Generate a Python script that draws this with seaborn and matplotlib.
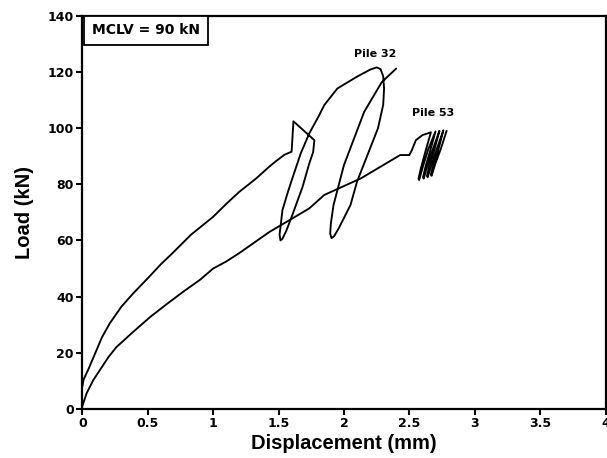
import pandas as pd
import matplotlib
matplotlib.use("Agg")
import matplotlib.pyplot as plt
import seaborn as sns

# Pile 32: loading, sudden load step, small unload/reload loop, larger loop
pile32_disp = [0.0, 0.01, 0.05, 0.10, 0.15, 0.21, 0.30, 0.39, 0.52, 0.60,
               0.69, 0.83, 1.00, 1.10, 1.20, 1.33, 1.43, 1.48, 1.545, 1.60,
               1.614, 1.774,
               1.765, 1.735, 1.684, 1.61, 1.56, 1.53, 1.515, 1.508,
               1.53, 1.57, 1.61, 1.67, 1.735, 1.81, 1.85, 1.95, 2.10, 2.20,
               2.25, 2.28, 2.30, 2.307, 2.30, 2.26, 2.18, 2.10, 2.05, 1.96,
               1.925, 1.905, 1.895, 1.90, 1.92, 2.00, 2.155, 2.29, 2.40]
pile32_load = [8.0, 10.5, 14.5, 20.0, 25.5, 30.5, 36.5, 41.2, 47.5, 51.5,
               55.5, 62.0, 68.4, 73.0, 77.3, 82.1, 86.3, 88.2, 90.5, 91.6,
               102.4, 95.7,
               91.5, 87.4, 79.1, 69.6, 63.5, 60.6, 60.0, 62.0,
               70.8, 77.0, 82.7, 91.0, 98.1, 104.5, 108.2, 114.1, 118.3, 120.8,
               121.6, 121.0, 118.5, 114.1, 108.2, 99.9, 90.4, 80.9, 72.6, 64.3,
               61.5, 60.8, 62.5, 66.0, 72.5, 86.8, 105.8, 116.4, 121.2]

# Pile 53: loading, then repeated load cycles near the maximum
pile53_disp = [0.0, 0.033, 0.084, 0.135, 0.20, 0.26, 0.39, 0.52, 0.65, 0.77,
               0.90, 1.00, 1.10, 1.20, 1.43, 1.735, 1.85, 2.13, 2.43, 2.50,
               2.52, 2.55, 2.60, 2.64, 2.665,
               2.625, 2.59, 2.57, 2.575, 2.605, 2.645, 2.70,
               2.66, 2.625, 2.605, 2.61, 2.64, 2.68, 2.73,
               2.69, 2.655, 2.635, 2.64, 2.67, 2.71, 2.76,
               2.72, 2.685, 2.665, 2.67, 2.70, 2.74, 2.785]
pile53_load = [1.0, 5.6, 10.3, 13.9, 18.5, 22.0, 27.5, 32.8, 37.5, 41.7,
               46.0, 50.0, 52.5, 55.5, 63.0, 71.4, 76.2, 82.1, 90.4, 90.4,
               92.2, 95.7, 97.5, 98.1, 98.5,
               92.0, 86.0, 82.0, 81.5, 86.5, 92.5, 98.8,
               92.0, 86.5, 82.5, 82.0, 87.0, 92.5, 99.0,
               92.0, 87.0, 83.0, 82.5, 87.0, 92.5, 99.2,
               92.0, 87.0, 83.5, 83.0, 87.5, 92.5, 99.0]

x_ticks = [0, 0.5, 1, 1.5, 2, 2.5, 3, 3.5, 4]
x_tick_labels = ["0", "0.5", "1", "1.5", "2", "2.5", "3", "3.5", "4"]
y_ticks = [0, 20, 40, 60, 80, 100, 120, 140]

df = pd.concat([
    pd.DataFrame({"disp": pile32_disp, "load": pile32_load, "pile": "Pile 32"}),
    pd.DataFrame({"disp": pile53_disp, "load": pile53_load, "pile": "Pile 53"}),
], ignore_index=True)

sns.set_theme(style="ticks")
plt.rcParams["font.family"] = ["Liberation Sans", "DejaVu Sans"]
plt.rcParams["text.color"] = "black"
plt.rcParams["axes.labelcolor"] = "black"

fig = plt.figure(figsize=(6.07, 4.58), dpi=100)
ax = fig.add_axes([0.1356, 0.107, 0.862, 0.8587])

sns.lineplot(data=df, x="disp", y="load", units="pile", estimator=None,
             sort=False, color="black", linewidth=1.35, ax=ax, legend=False)

ax.set_xlim(0, 4)
ax.set_ylim(0, 140)
ax.set_xticks(x_ticks)
ax.set_xticklabels(x_tick_labels)
ax.set_yticks(y_ticks)
ax.tick_params(axis="both", direction="out", length=4, width=1.5,
               pad=2, color="black", labelcolor="black")
for lbl in ax.get_xticklabels() + ax.get_yticklabels():
    lbl.set_fontfamily("DejaVu Sans")
    lbl.set_fontweight("bold")
    lbl.set_fontsize(9)
for side in ["left", "bottom", "top", "right"]:
    ax.spines[side].set_visible(True)
    ax.spines[side].set_linewidth(1.6)
    ax.spines[side].set_color("black")

ax.set_xlabel("Displacement (mm)", fontsize=14.5, fontweight="bold",
              labelpad=3, color="black")
ax.set_ylabel("Load (kN)", fontsize=14.5, fontweight="bold",
              labelpad=10, color="black")

ax.text(0.0185, 0.981, "MCLV = 90 kN", transform=ax.transAxes, ha="left", va="top",
        fontsize=10, fontweight="bold", family="DejaVu Sans", color="black",
        bbox=dict(boxstyle="square,pad=0.55", facecolor="white", edgecolor="black",
                  linewidth=1.3))
ax.text(2.24, 126.3, "Pile 32", ha="center", va="center", fontsize=8,
        fontweight="bold", family="DejaVu Sans", color="black")
ax.text(2.68, 105.5, "Pile 53", ha="center", va="center", fontsize=8,
        fontweight="bold", family="DejaVu Sans", color="black")

fig.savefig("out.png", dpi=100)
